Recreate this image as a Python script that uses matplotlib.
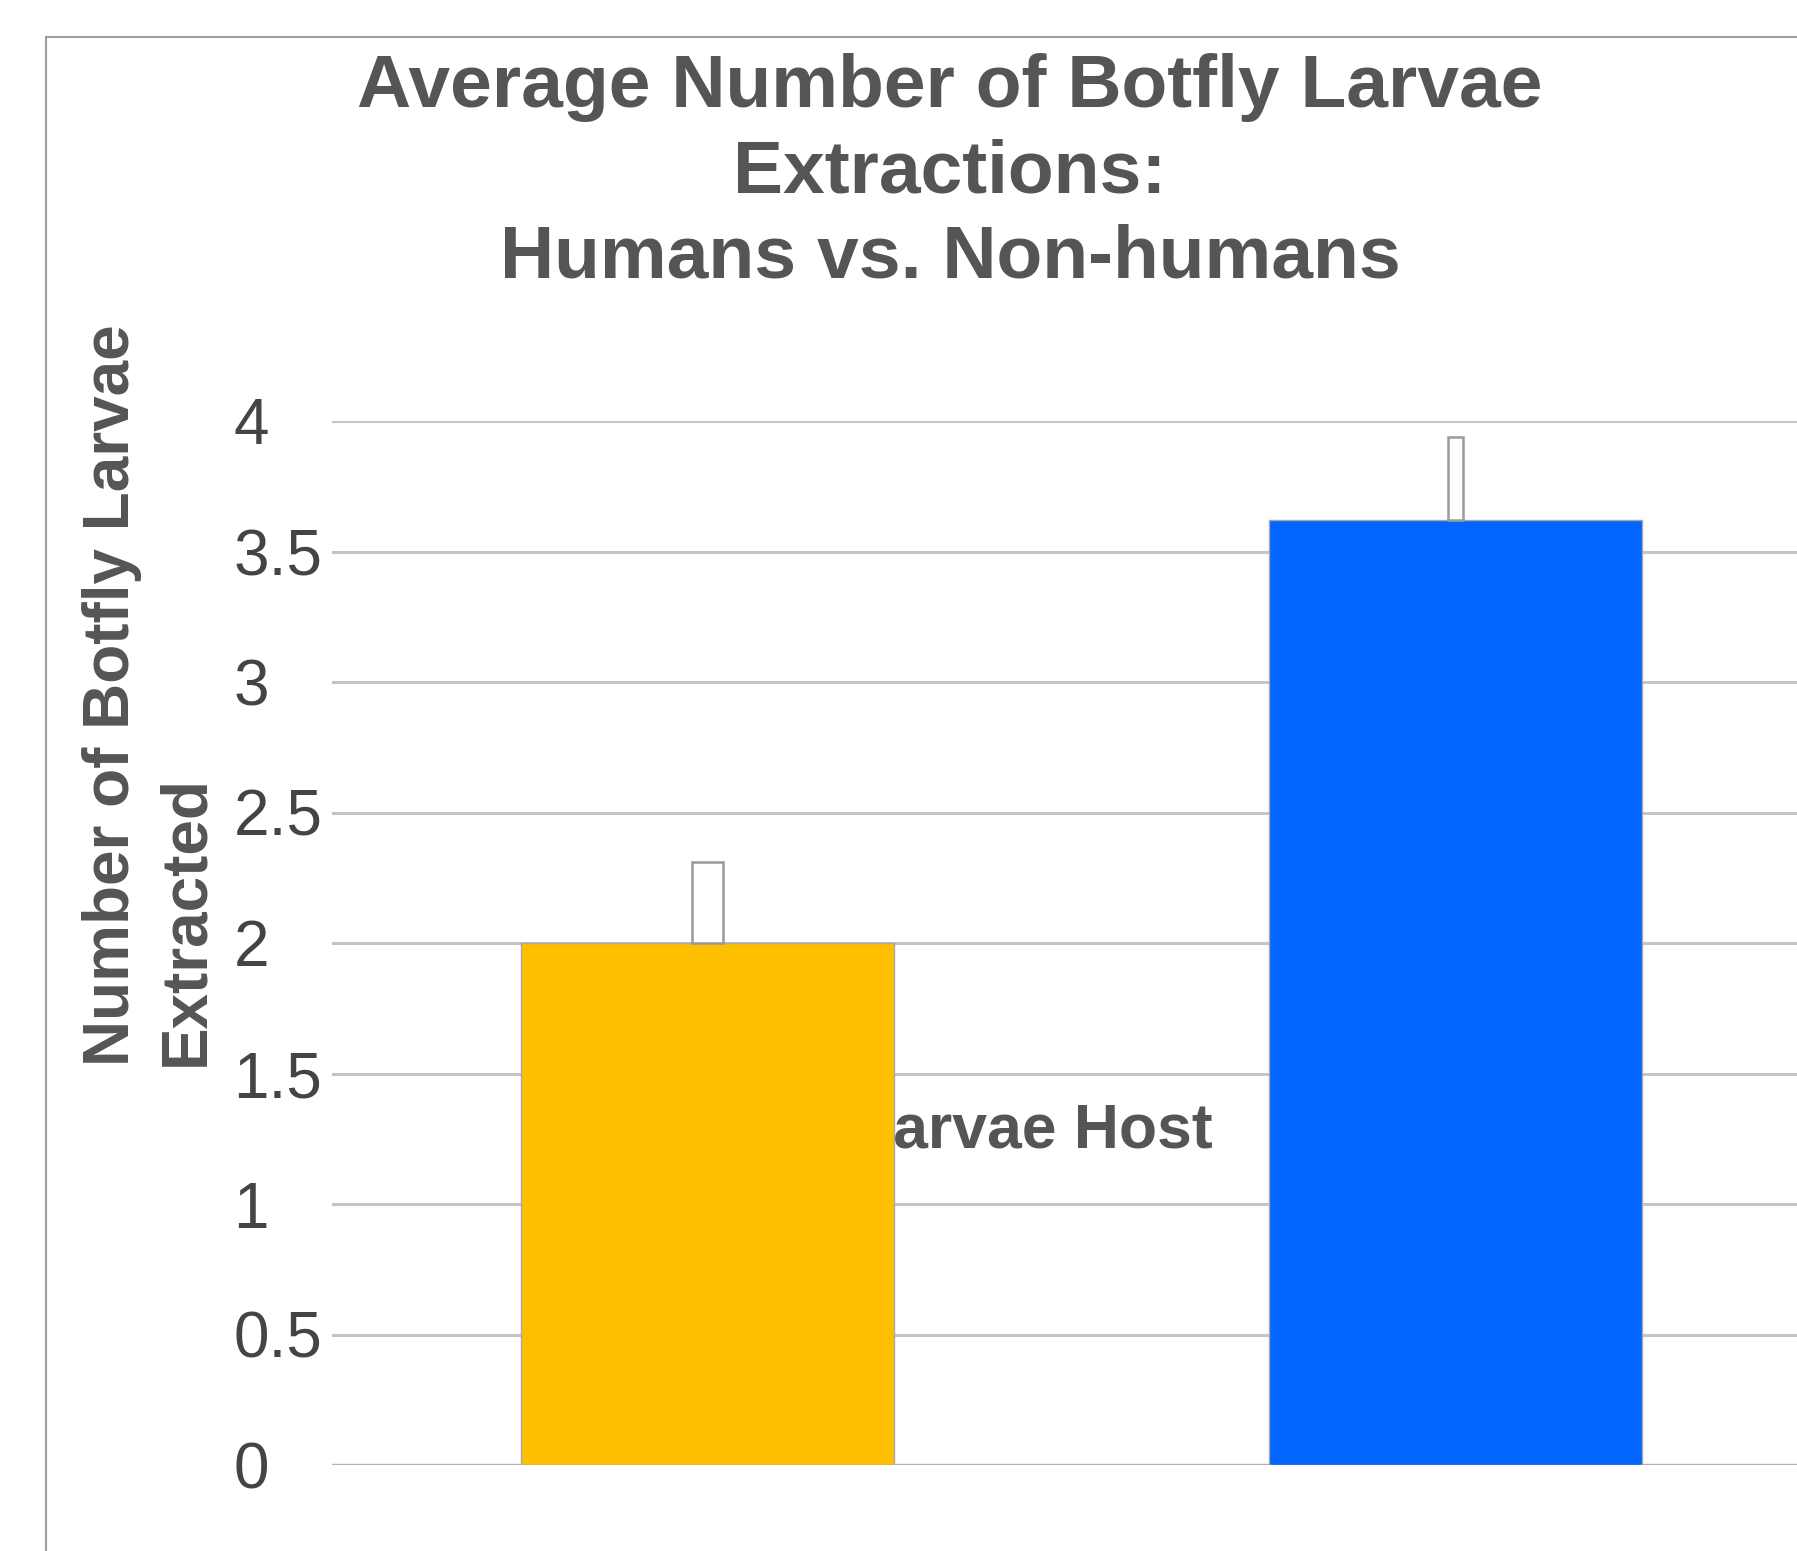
import matplotlib.pyplot as plt
from matplotlib.patches import Rectangle

plt.rcParams['font.family'] = ['Liberation Sans', 'DejaVu Sans']

hosts = ['Humans', 'Non-humans']
avg_larvae = [2.0, 3.62]
err_up = [0.31, 0.32]
bar_colors = ['#FDBF00', '#0066FF']
err_widths = [0.042, 0.02]

W, H = 1797, 1551
fig = plt.figure(figsize=(W / 100, H / 100), dpi=100)

# axes placed in pixel terms of the reference
left, right = 332, 1797
bottom, top = 1465, 421
ax = fig.add_axes([left / W, 1 - bottom / H, (right - left) / W, (bottom - top) / H])

x = list(range(len(hosts)))
ax.bar(x, avg_larvae, width=0.499, color=bar_colors, edgecolor='#a8a8a8', linewidth=1, zorder=3)
ax.bar(x, err_up, bottom=avg_larvae, width=err_widths, color='white', edgecolor='#9a9a9a',
       linewidth=1.8, zorder=4)

ax.set_xlim(-0.502, 1.4565)
ax.set_ylim(0, 4)
ax.set_yticks([0, 0.5, 1, 1.5, 2, 2.5, 3, 3.5, 4])
ax.set_yticklabels(['0', '0.5', '1', '1.5', '2', '2.5', '3', '3.5', '4'])
ax.tick_params(axis='y', length=0, pad=71, labelsize=46, labelcolor='#444444')
for lab in ax.get_yticklabels():
    lab.set_horizontalalignment('left')
ax.set_xticks([])
ax.grid(axis='y', color='#c4c4c4', linewidth=2.2, zorder=0)
ax.axhline(0, color='#b0b0b0', linewidth=2.4, zorder=2)
for s in ax.spines.values():
    s.set_visible(False)

# x-axis title ends up partly behind the first bar
ax.text(0.675, 1.28, 'Larvae Host', ha='right', va='center', fontsize=45, fontweight='bold',
        color='#555555', zorder=1)

fig.text(950 / W, 1 - 173 / H, 'Average Number of Botfly Larvae\nExtractions:\nHumans vs. Non-humans',
         ha='center', va='center', fontsize=54, fontweight='bold', color='#555555', linespacing=1.3)

fig.text(149 / W, 1 - 1066 / H, 'Number of Botfly Larvae\nExtracted', rotation=90,
         ha='center', va='bottom', multialignment='left', fontsize=46, fontweight='bold',
         color='#555555', linespacing=1.3)

fig.add_artist(Rectangle((46 / W, -0.1), 1.2, 1 - 37 / H + 0.1, transform=fig.transFigure,
                         fill=False, edgecolor='#9e9e9e', linewidth=1.5))

fig.savefig('out.png', dpi=100)
